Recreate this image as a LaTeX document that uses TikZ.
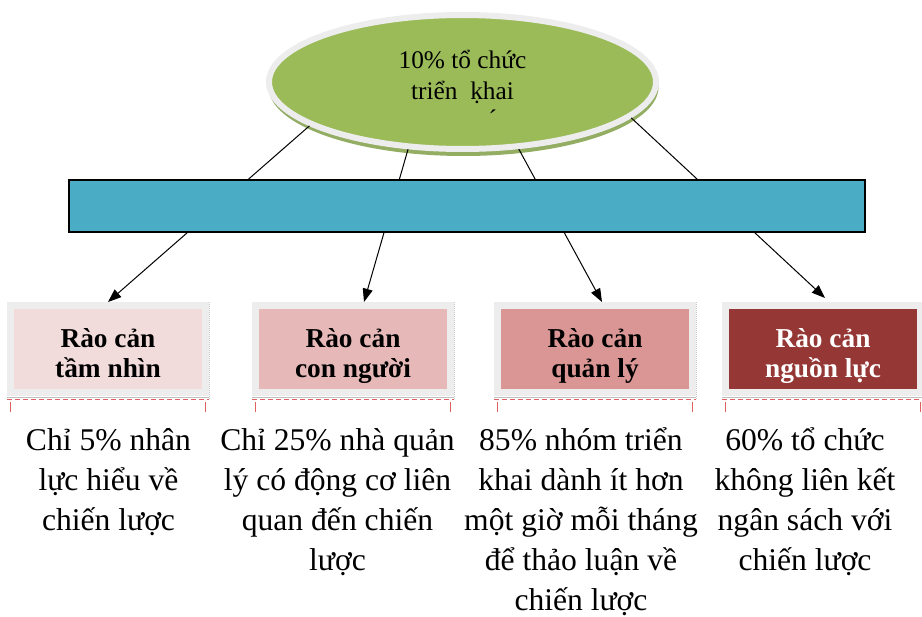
\documentclass[tikz,border=0pt]{standalone}
\usepackage{fontspec}
\setmainfont{Liberation Serif}
\usetikzlibrary{arrows.meta,calc,shapes.geometric}

\definecolor{goalgreen}{HTML}{9BBB59}
\definecolor{shadowgreen}{HTML}{93AD62}
\definecolor{rimgray}{HTML}{EDEDED}
\definecolor{barblue}{HTML}{4BACC6}
\definecolor{pinkone}{HTML}{F2DCDB}
\definecolor{pinktwo}{HTML}{E6B9B8}
\definecolor{pinkthree}{HTML}{D99694}
\definecolor{darkred}{HTML}{953735}
\definecolor{stripered}{HTML}{E06060}

\newcommand{\topstrut}{\rule{0pt}{25.5pt}}
\newcommand{\botstrut}{\rule[-6pt]{0pt}{0pt}}

\tikzset{every picture/.style={line width=0.75pt}}
\tikzset{
  barrier/.style={rectangle, draw=rimgray, line width=5.25pt, minimum width=146.25pt, minimum height=65.25pt, inner sep=0pt, align=center, font=\fontsize{20.5}{22.5}\selectfont\bfseries},
  fact/.style={anchor=north, inner sep=0pt, align=center, font=\fontsize{23.7}{30}\selectfont},
  link/.style={-{Triangle[length=10pt,width=7.5pt]}, line width=0.75pt},
}

\begin{document}
\begin{tikzpicture}[x=0.75pt,y=0.75pt,yscale=-1,xscale=1]
\useasboundingbox (0,0) rectangle (922,617);

% Barrier boxes
\node[barrier, fill=pinkone] (b1) at (108,349) {\topstrut Rào cản\\tầm nhìn\botstrut};
\node[barrier, fill=pinktwo] (b2) at (353,349) {\topstrut Rào cản\\con người\botstrut};
\node[barrier, fill=pinkthree] (b3) at (595,349) {\topstrut Rào cản\\quản lý\botstrut};
\node[barrier, fill=darkred, text=white] (b4) at (823,349) {\topstrut Rào cản\\nguồn lực\botstrut};

% Stripes under the boxes
\foreach \b in {b1,b2,b3,b4}{
  \draw[gray!45, line width=0.5pt, densely dotted] (\b.north east) -- ($(\b.south east)+(0,3)$);
  \draw[gray!50, line width=0.6pt] ($(\b.south west)+(0,1.5)$) -- ($(\b.south east)+(0,1.5)$);
  \draw[stripered, line width=1pt, dash pattern=on 4pt off 2pt] ($(\b.south west)+(0,3.5)$) -- ($(\b.south east)+(0,3.5)$);
  \draw[stripered, line width=0.75pt] ($(\b.south west)+(3,6)$) -- ++(0,10);
  \draw[stripered, line width=0.75pt] ($(\b.south east)+(-4,6)$) -- ++(0,10);
}

% Goal ellipse with its shadow
\fill[shadowgreen] (463.5,87) ellipse [x radius=195, y radius=69];
\node[ellipse, draw=rimgray, line width=4.5pt, fill=goalgreen, minimum width=290.25pt, minimum height=100.5pt, inner sep=0pt, align=center, font=\fontsize{19}{23.25}\selectfont] (goal) at (462.5,82) {\rule{0pt}{2.25pt}\smash{10\% tổ chức}\\\smash{triển\ \ ḳhai\rlap{\hspace{-19pt}\raisebox{-21pt}{´}}}};

% Connectors
\draw[link] (goal.196) -- (b1.north);
\draw[link] (goal.231) -- ($(b2.north)+(11,0)$);
\draw[link] (goal.310) -- ($(b3.north)+(7,0)$);
\draw[link] (goal.348) -- ($(b4.north)+(2,-4)$);

% Bar
\node[rectangle, draw=black, line width=1.5pt, fill=barblue, minimum width=597pt, minimum height=39pt, inner sep=0pt] (bar) at (467,206) {};

% Facts
\node[fact] (f1) at (108.5,422) {\strut Chỉ 5\% nhân\\lực hiểu về\\chiến lược};
\node[fact] (f2) at (337.5,422) {\strut Chỉ 25\% nhà quản\\lý có động cơ liên\\quan đến chiến\\lược};
\node[fact] (f3) at (581,422) {\strut 85\% nhóm triển\\khai dành ít hơn\\một giờ mỗi tháng\\để thảo luận về\\chiến lược};
\node[fact] (f4) at (805,422) {\strut 60\% tổ chức\\không liên kết\\ngân sách với\\chiến lược};

\end{tikzpicture}
\end{document}
